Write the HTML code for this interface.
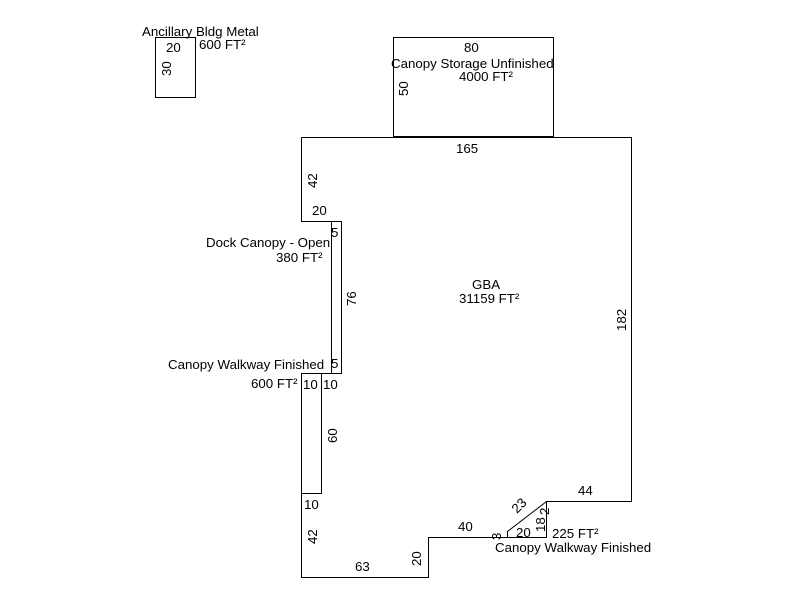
<!DOCTYPE html>
<html><head><style>body{margin:0;background:#fff}svg{display:block}text{font-family:"Liberation Sans",Arial,sans-serif;font-size:13.3px;fill:#000}</style></head>
<body>
<svg width="800" height="600" viewBox="0 0 800 600">
<g fill="none" stroke="#000" stroke-width="1">
<rect x="155.5" y="37.5" width="40" height="60"/>
<rect x="393.5" y="37.5" width="160" height="99"/>
<polyline points="301.5,137.5 631.5,137.5 631.5,501.5 546.5,501.5 507.5,531.5 507.5,537.5 428.5,537.5 428.5,577.5 301.5,577.5 301.5,373.5 341.5,373.5 341.5,221.5 301.5,221.5 301.5,137.5"/>
<line x1="331.5" y1="221.5" x2="331.5" y2="373.5"/>
<polyline points="321.5,373.5 321.5,493.5 301.5,493.5"/>
<polyline points="546.5,501.5 546.5,537.5 507.5,537.5"/>
</g>
<text x="142" y="36">Ancillary Bldg Metal</text>
<text x="166" y="52">20</text>
<text x="199" y="49">600 FT²</text>
<text transform="translate(171,76) rotate(-90)">30</text>
<text x="464" y="52">80</text>
<text x="391" y="68">Canopy Storage Unfinished</text>
<text x="459" y="81">4000 FT²</text>
<text transform="translate(408,96) rotate(-90)">50</text>
<text x="456" y="153">165</text>
<text transform="translate(317,188) rotate(-90)">42</text>
<text x="312" y="215">20</text>
<text x="331" y="237">5</text>
<text x="206" y="247">Dock Canopy - Open</text>
<text x="276" y="262">380 FT²</text>
<text transform="translate(356,306) rotate(-90)">76</text>
<text x="472" y="289">GBA</text>
<text x="459" y="303">31159 FT²</text>
<text transform="translate(626,331) rotate(-90)">182</text>
<text x="168" y="369">Canopy Walkway Finished</text>
<text x="331" y="368">5</text>
<text x="251" y="388">600 FT²</text>
<text x="303" y="389">10</text>
<text x="323" y="389">10</text>
<text transform="translate(337,443) rotate(-90)">60</text>
<text x="304" y="509">10</text>
<text transform="translate(317,544) rotate(-90)">42</text>
<text x="355" y="571">63</text>
<text transform="translate(421,566) rotate(-90)">20</text>
<text x="458" y="531">40</text>
<text x="578" y="495">44</text>
<text transform="translate(517,514) rotate(-45)">23</text>
<text transform="translate(501,540) rotate(-90)">3</text>
<text x="516" y="537">20</text>
<text transform="translate(545,532) rotate(-90)">18</text>
<text transform="translate(549,515) rotate(-90)">2</text>
<text x="552" y="538">225 FT²</text>
<text x="495" y="552">Canopy Walkway Finished</text>
</svg>
</body></html>
